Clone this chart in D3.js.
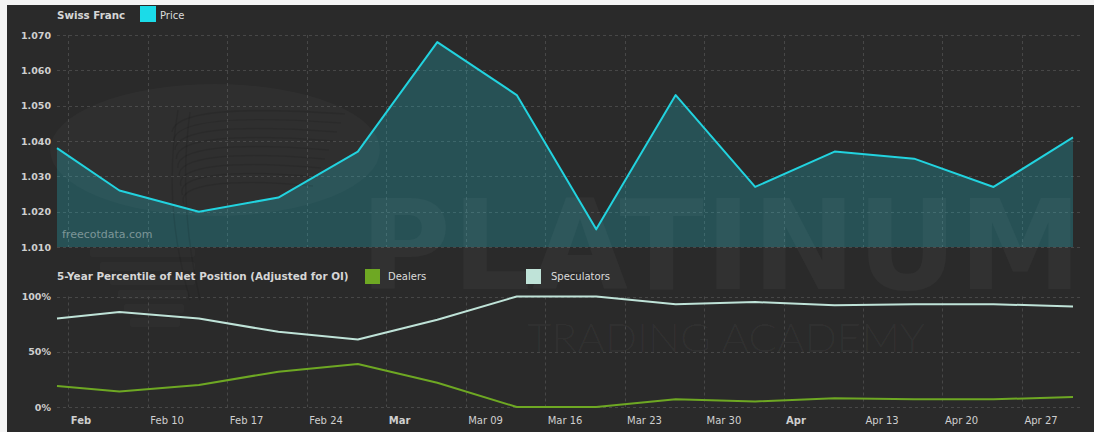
<!DOCTYPE html>
<html>
<head>
<meta charset="utf-8">
<script src="https://cdn.jsdelivr.net/npm/d3@7/dist/d3.min.js"></script>
<style>
  html, body { margin: 0; padding: 0; background: #f4f4f4; }
  svg { display: block; font-family: "DejaVu Sans", sans-serif; }
</style>
</head>
<body>
<svg id="chart" width="1094" height="432"></svg>
<script>
// Weekly observations (report Fridays); first entry is the left edge of the visible window
const dates = [
  "2020-02-02 00:00", "2020-02-07 12:00", "2020-02-14 12:00", "2020-02-21 12:00",
  "2020-02-28 12:00", "2020-03-06 12:00", "2020-03-13 12:00", "2020-03-20 12:00",
  "2020-03-27 12:00", "2020-04-03 12:00", "2020-04-10 12:00", "2020-04-17 12:00",
  "2020-04-24 12:00", "2020-05-01 12:00"
];
// Swiss Franc price
const price = [1.038, 1.026, 1.020, 1.024, 1.037, 1.068, 1.053, 1.015, 1.053, 1.027, 1.037, 1.035, 1.027, 1.041];
// 5-year percentile of net position (adjusted for open interest), in %
const dealers     = [19, 14, 20, 32, 39, 22, 0, 0, 7, 5, 8, 7, 7, 9];
const speculators = [80, 86, 80, 68, 61, 79, 100, 100, 93, 95, 92, 93, 93, 91];

// Axis labels
const xTickLabels = ["Feb", "Feb 10", "Feb 17", "Feb 24", "Mar", "Mar 09", "Mar 16",
                     "Mar 23", "Mar 30", "Apr", "Apr 13", "Apr 20", "Apr 27"];
const priceTicks = [1.010, 1.020, 1.030, 1.040, 1.050, 1.060, 1.070];
const pctTicks = [0, 50, 100];

const parse = d3.timeParse("%Y-%m-%d %H:%M");
const when = dates.map(parse);

const svg = d3.select("#chart");
const W = 1094, H = 432;

// dark chart panel
svg.append("rect").attr("x", 7).attr("y", 5).attr("width", W - 7).attr("height", H - 5).attr("fill", "#2a2a2a");

const left = 57, right = 1073, gridRight = 1080;
const x = d3.scaleTime().domain(d3.extent(when)).range([left, right]);
const yTop = d3.scaleLinear().domain([1.010, 1.070]).range([247, 35]);
const yBot = d3.scaleLinear().domain([0, 100]).range([407, 296.5]);

const tickDates = d3.timeMonday.range(when[0], when[when.length - 1]);

const gridColor = "#474747";

// ---------- grids ----------
function grid(yScale, ticks, y0, y1) {
  const g = svg.append("g");
  g.selectAll("line.h").data(ticks).join("line")
    .attr("x1", left).attr("x2", gridRight)
    .attr("y1", d => Math.round(yScale(d)) + 0.5).attr("y2", d => Math.round(yScale(d)) + 0.5)
    .attr("stroke", gridColor).attr("stroke-dasharray", "3,3");
  g.selectAll("line.v").data(tickDates).join("line")
    .attr("x1", d => Math.round(x(d)) + 0.5).attr("x2", d => Math.round(x(d)) + 0.5)
    .attr("y1", y0).attr("y2", y1)
    .attr("stroke", gridColor).attr("stroke-dasharray", "3,3");
}
grid(yTop, priceTicks, yTop(1.070), yTop(1.010));
grid(yBot, pctTicks, yBot(100), yBot(0));

// ---------- price panel ----------
const pts = when.map((d, i) => ({ d, v: price[i] }));
svg.append("path").datum(pts)
  .attr("d", d3.area().x(p => x(p.d)).y0(yTop(1.010)).y1(p => yTop(p.v)))
  .attr("fill", "#1fc8d6").attr("fill-opacity", 0.25);

// ---------- watermark ----------
const wm = svg.append("g").attr("pointer-events", "none");
wm.append("ellipse").attr("cx", 215).attr("cy", 150).attr("rx", 165).attr("ry", 66)
  .attr("fill", "#ffffff").attr("fill-opacity", 0.022);
const swirl = wm.append("g").attr("fill", "none").attr("stroke", "#000").attr("stroke-opacity", 0.09).attr("stroke-width", 1.5);
for (let k = 0; k < 9; k++) {
  const yy = 112 + k * 9;
  swirl.append("path").attr("d", `M${172 + k * 1.5},${yy + 20} C${175},${yy} ${230},${yy - 6} ${345 - k * 4},${yy + 2}`);
}
swirl.append("path").attr("d", "M178,110 C168,170 170,230 190,300");
swirl.append("path").attr("d", "M190,112 C182,170 184,230 200,300");
const bars = wm.append("g").attr("fill", "#ffffff").attr("fill-opacity", 0.02);
[[90, 248, 105], [100, 262, 95], [110, 276, 85], [118, 290, 70], [124, 304, 60], [130, 318, 50]]
  .forEach(([bx, by, bw]) => bars.append("rect").attr("x", bx).attr("y", by).attr("width", bw).attr("height", 9).attr("rx", 2));
wm.append("text").text("PLATINUM")
  .attr("x", 360).attr("y", 289).attr("font-size", 124).attr("font-weight", "bold")
  .attr("textLength", 722).attr("lengthAdjust", "spacing")
  .attr("fill", "#ffffff").attr("fill-opacity", 0.035);
wm.append("text").text("TRADING ACADEMY")
  .attr("x", 527).attr("y", 352).attr("font-size", 40).attr("font-weight", 300)
  .style("font-family", "Lato, 'Open Sans', sans-serif")
  .attr("textLength", 398).attr("lengthAdjust", "spacingAndGlyphs")
  .attr("fill", "#ffffff").attr("fill-opacity", 0.035);

svg.append("text").text("freecotdata.com")
  .attr("x", 62).attr("y", 238).attr("font-size", 11)
  .attr("fill", "#ffffff").attr("fill-opacity", 0.4);

svg.append("path").datum(pts)
  .attr("d", d3.line().x(p => x(p.d)).y(p => yTop(p.v)))
  .attr("fill", "none").attr("stroke", "#22d3df").attr("stroke-width", 2).attr("stroke-linejoin", "round");

// ---------- percentile panel ----------
function series(vals, color) {
  svg.append("path").datum(when.map((d, i) => ({ d, v: vals[i] })))
    .attr("d", d3.line().x(p => x(p.d)).y(p => yBot(p.v)))
    .attr("fill", "none").attr("stroke", color).attr("stroke-width", 2).attr("stroke-linejoin", "round");
}
series(speculators, "#bfe3d8");
series(dealers, "#6ea823");

// ---------- axes ----------
const labelColor = "#cfcfcf";
const axTop = svg.append("g").attr("transform", "translate(51,0)")
  .call(d3.axisLeft(yTop).tickValues(priceTicks).tickFormat(d3.format(".3f")).tickSize(0).tickPadding(0));
const axBot = svg.append("g").attr("transform", "translate(51,0)")
  .call(d3.axisLeft(yBot).tickValues(pctTicks).tickFormat(d => d + "%").tickSize(0).tickPadding(0));
[axTop, axBot].forEach(a => {
  a.select(".domain").remove();
  a.selectAll("text").attr("fill", labelColor).attr("font-size", 9.5).attr("font-weight", "bold")
    .style("font-family", "'DejaVu Sans', sans-serif");
});

const axX = svg.append("g").attr("transform", "translate(0,407)")
  .call(d3.axisBottom(x).tickValues(tickDates).tickFormat((d, i) => xTickLabels[i]).tickSize(0).tickPadding(0));
axX.select(".domain").remove();
axX.selectAll("text")
  .attr("text-anchor", "start").attr("dx", 2).attr("y", 17).attr("dy", 0)
  .attr("fill", labelColor).attr("font-size", 10)
  .style("font-family", "'DejaVu Sans', sans-serif")
  .attr("font-weight", (d, i) => /\d/.test(xTickLabels[i]) ? "normal" : "bold");

// ---------- legends ----------
svg.append("text").text("Swiss Franc").attr("x", 57).attr("y", 19)
  .attr("font-size", 10.3).attr("font-weight", "bold").attr("fill", "#d6d6d6");
svg.append("rect").attr("x", 140).attr("y", 6).attr("width", 16).attr("height", 16).attr("fill", "#1bdbe8");
svg.append("text").text("Price").attr("x", 160).attr("y", 19).attr("font-size", 10).attr("fill", "#dcdcdc");

svg.append("text").text("5-Year Percentile of Net Position (Adjusted for OI)").attr("x", 57).attr("y", 280)
  .attr("font-size", 10.4).attr("font-weight", "bold").attr("fill", "#d6d6d6");
svg.append("rect").attr("x", 365).attr("y", 269).attr("width", 15).attr("height", 15).attr("fill", "#6ea823");
svg.append("text").text("Dealers").attr("x", 388).attr("y", 280).attr("font-size", 10).attr("fill", "#dcdcdc");
svg.append("rect").attr("x", 526).attr("y", 269).attr("width", 15).attr("height", 15).attr("fill", "#bfe3d8");
svg.append("text").text("Speculators").attr("x", 551).attr("y", 280).attr("font-size", 10).attr("fill", "#dcdcdc");
</script>
</body>
</html>
